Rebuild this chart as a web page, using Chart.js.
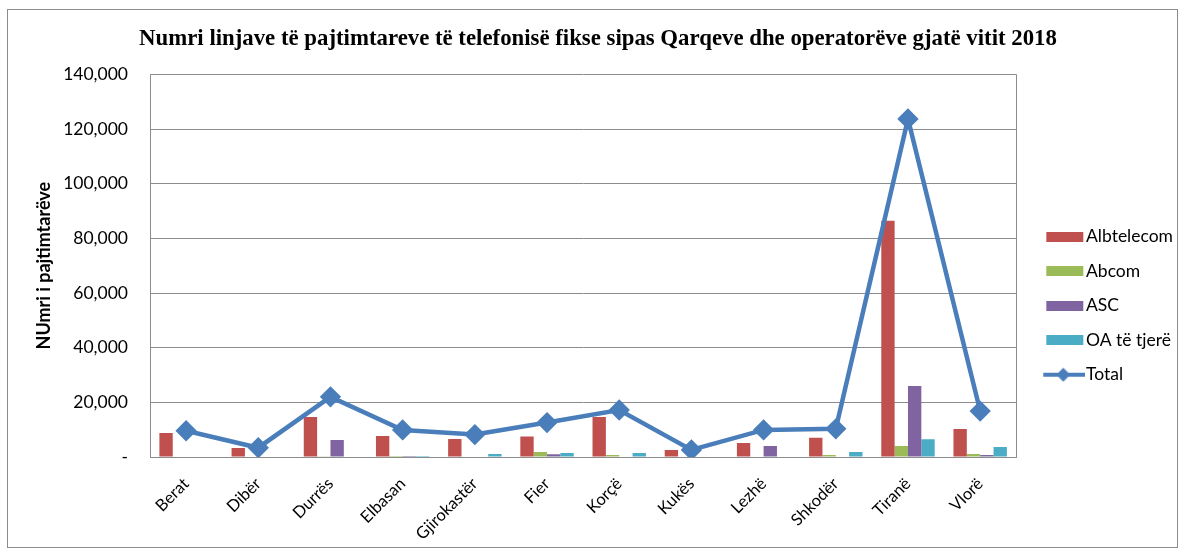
<!DOCTYPE html>
<html>
<head>
<meta charset="utf-8">
<script src="https://cdn.jsdelivr.net/npm/chart.js@4"></script>
<style>
  html, body { margin: 0; padding: 0; background: #fff; }
  #box { position: absolute; left: 7px; top: 9px; width: 1171px; height: 539px; border: 1px solid #8c8c8c; box-sizing: border-box; }
  canvas { display: block; }
</style>
</head>
<body>
<div id="box"><canvas id="c"></canvas></div>
<script>
const categories = ["Berat", "Dibër", "Durrës", "Elbasan", "Gjirokastër", "Fier", "Korçë", "Kukës", "Lezhë", "Shkodër", "Tiranë", "Vlorë"];
const albtelecom = [8800, 3300, 14600, 7700, 6600, 7500, 14600, 2600, 5100, 7000, 86400, 10200];
const abcom      = [0, 0, 300, 400, 0, 1800, 700, 0, 0, 700, 4000, 1100];
const asc        = [0, 0, 6200, 400, 0, 1000, 0, 0, 4000, 0, 26000, 700];
const oaTjere    = [0, 0, 0, 400, 1100, 1500, 1500, 0, 0, 1800, 6500, 3700];
const total      = [9600, 3400, 22000, 9900, 8200, 12600, 17200, 2600, 9900, 10300, 123700, 16800];
const yTicks = [0, 20000, 40000, 60000, 80000, 100000, 120000, 140000];
const legendOrder = ['Albtelecom', 'Abcom', 'ASC', 'OA të tjerë', 'Total'];

const LINE_BLUE = '#4A7EBB';
const FONT = 'Lato, "Open Sans", sans-serif';
const SYM_IMG_W = 60, SYM_BOX_W = 44;

// legend symbols drawn as small images
function makeBoxSymbol(color) {
  const cv = document.createElement('canvas');
  cv.width = SYM_IMG_W; cv.height = 10;
  const g = cv.getContext('2d');
  g.fillStyle = color;
  g.fillRect(21, 0, 37, 10);
  return cv;
}
function makeLineSymbol() {
  const cv = document.createElement('canvas');
  cv.width = SYM_IMG_W; cv.height = 16;
  const g = cv.getContext('2d');
  g.strokeStyle = LINE_BLUE; g.lineWidth = 4;
  g.beginPath(); g.moveTo(18, 8); g.lineTo(60, 8); g.stroke();
  g.fillStyle = LINE_BLUE;
  const cx = 38;
  g.beginPath(); g.moveTo(cx, 1); g.lineTo(cx + 7, 8); g.lineTo(cx, 15); g.lineTo(cx - 7, 8); g.closePath(); g.fill();
  return cv;
}
const lineSymbol = makeLineSymbol();

const frame = {
  id: 'frame',
  afterDraw(chart) {
    const a = chart.chartArea, ctx = chart.ctx;
    ctx.save();
    ctx.strokeStyle = '#8c8c8c';
    ctx.lineWidth = 1;
    ctx.beginPath();
    ctx.moveTo(Math.round(a.right) + 0.5, a.top);
    ctx.lineTo(Math.round(a.right) + 0.5, a.bottom);
    ctx.stroke();
    ctx.restore();
  }
};

const barCommon = { categoryPercentage: 0.74, barPercentage: 1.0, borderWidth: 0 };

new Chart(document.getElementById('c'), {
  data: {
    labels: categories,
    datasets: [
      { type: 'line', label: 'Total', data: total, borderColor: LINE_BLUE, backgroundColor: LINE_BLUE,
        borderWidth: 4.5, pointStyle: 'rectRot', pointRadius: 7.5, pointHoverRadius: 7.5, tension: 0, order: 0 },
      { type: 'bar', label: 'Albtelecom', data: albtelecom, backgroundColor: '#C0504D', order: 1, ...barCommon },
      { type: 'bar', label: 'Abcom', data: abcom, backgroundColor: '#9BBB59', order: 1, ...barCommon },
      { type: 'bar', label: 'ASC', data: asc, backgroundColor: '#8064A2', order: 1, ...barCommon },
      { type: 'bar', label: 'OA të tjerë', data: oaTjere, backgroundColor: '#4BACC6', order: 1, ...barCommon }
    ]
  },
  options: {
    responsive: true,
    maintainAspectRatio: false,
    animation: false,
    layout: { autoPadding: false, padding: { left: 5, right: -6, top: 6, bottom: 6 } },
    plugins: {
      title: {
        display: true,
        text: 'Numri linjave të pajtimtareve të telefonisë fikse sipas Qarqeve dhe operatorëve gjatë vitit 2018',
        font: { family: '"Liberation Serif", "Times New Roman", serif', size: 22.8, weight: 'bold' },
        color: '#000',
        padding: { top: 9, bottom: 22 }
      },
      legend: {
        position: 'right',
        align: 'center',
        title: { display: true, text: ' ', padding: { top: 0, bottom: 40 }, font: { size: 12 } },
        labels: {
          font: { family: FONT, size: 17.5 },
          color: '#000',
          usePointStyle: true,
          pointStyleWidth: SYM_BOX_W,
          boxWidth: SYM_BOX_W,
          boxHeight: 9,
          padding: 17,
          generateLabels: (chart) => {
            const items = Chart.defaults.plugins.legend.labels.generateLabels(chart);
            items.forEach(it => {
              if (it.text === 'Total') { it.pointStyle = lineSymbol; }
              else { it.pointStyle = makeBoxSymbol(it.fillStyle); }
              it.lineWidth = 0;
            });
            items.sort((a, b) => legendOrder.indexOf(a.text) - legendOrder.indexOf(b.text));
            return items;
          }
        }
      },
      tooltip: { enabled: false }
    },
    scales: {
      x: {
        grid: { display: false, drawTicks: true, tickLength: 5, color: '#8c8c8c' },
        border: { color: '#8c8c8c' },
        afterFit: (axis) => { axis.height = 84; },
        ticks: { minRotation: 45, maxRotation: 45, color: '#000', padding: 12,
                 font: { family: FONT, size: 16.5 } }
      },
      y: {
        min: 0, max: 140000,
        afterBuildTicks: (axis) => { axis.ticks = yTicks.map(v => ({ value: v })); },
        afterFit: (axis) => { axis.width = 137; },
        grid: { color: '#8c8c8c', drawTicks: false },
        border: { color: '#8c8c8c' },
        ticks: {
          padding: 22,
          color: '#000',
          font: { family: FONT, size: 17.5 },
          callback: (v) => v === 0 ? '-' : v.toLocaleString('en-US')
        },
        title: {
          display: true,
          text: 'NUmri i pajtimtarëve',
          color: '#000',
          font: { family: FONT, size: 18, weight: 'bold' },
          padding: { top: 20, bottom: 8 }
        }
      }
    }
  },
  plugins: [frame]
});
</script>
</body>
</html>
